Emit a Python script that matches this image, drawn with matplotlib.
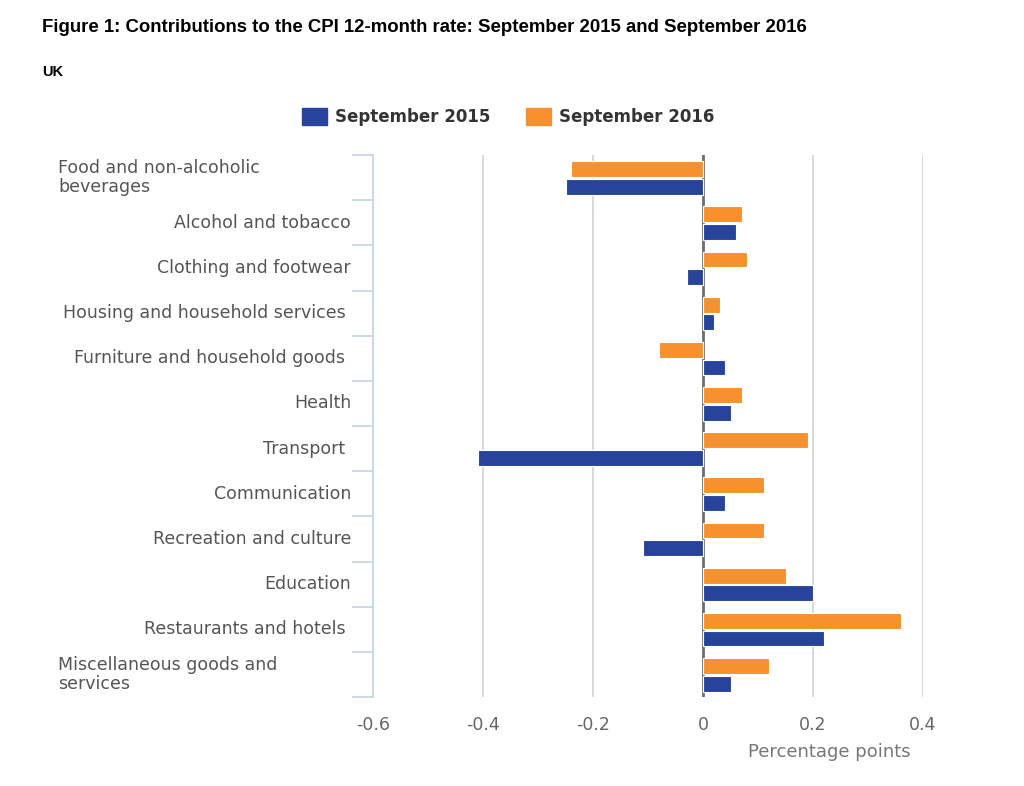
import matplotlib
matplotlib.use("Agg")
import matplotlib.pyplot as plt
import numpy as np
from matplotlib.patches import Patch
from matplotlib.transforms import blended_transform_factory

categories = [
    "Food and non-alcoholic\nbeverages",
    "Alcohol and tobacco",
    "Clothing and footwear",
    "Housing and household services ",
    "Furniture and household goods ",
    "Health",
    "Transport ",
    "Communication",
    "Recreation and culture",
    "Education",
    "Restaurants and hotels ",
    "Miscellaneous goods and\nservices",
]
sep2015 = [-0.25, 0.06, -0.03, 0.02, 0.04, 0.05, -0.41, 0.04, -0.11, 0.20, 0.22, 0.05]
sep2016 = [-0.24, 0.07, 0.08, 0.03, -0.08, 0.07, 0.19, 0.11, 0.11, 0.15, 0.36, 0.12]
series_names = ["September 2015", "September 2016"]
xticks = [-0.6, -0.4, -0.2, 0, 0.2, 0.4]
xtick_labels = ["-0.6", "-0.4", "-0.2", "0", "0.2", "0.4"]

BLUE = "#27449a"
ORANGE = "#f5922f"
GRAY = "#555555"

fig = plt.figure(figsize=(10.24, 7.86), dpi=100)
ax = fig.add_axes([373/1024, 1-697/786, (923-373)/1024, (697-155)/786])

n = len(categories)
y = np.arange(n)
h = 0.35
ax.barh(y - h/2 - 0.01, sep2016, height=h, color=ORANGE, edgecolor="white", linewidth=0.8, zorder=3)
ax.barh(y + h/2 + 0.03, sep2015, height=h, color=BLUE, edgecolor="white", linewidth=0.8, zorder=3)

ax.set_ylim(n - 0.5, -0.5)
ax.set_xlim(-0.6, 0.4)

# zero line and grid
ax.axvline(0, color="#6e6e6e", linewidth=2.0, zorder=2)
for xv in xticks:
    if xv not in (0, -0.6):
        ax.axvline(xv, color="#d6d6d6", linewidth=1.3, zorder=1)

for s in ["top", "right", "bottom"]:
    ax.spines[s].set_visible(False)
ax.spines["left"].set_color("#c9d5e6")
ax.spines["left"].set_linewidth(1.3)

ax.set_xticks(xticks)
ax.set_xticklabels(xtick_labels, color="#666666", fontsize=12.5, family="DejaVu Sans")
ax.tick_params(axis="x", length=0, pad=14)

# y ticks at category boundaries
ax.set_yticks(np.arange(-0.5, n, 1.0))
ax.set_yticklabels([])
ax.tick_params(axis="y", length=15, color="#c9d5e6", width=1.3)

trans = blended_transform_factory(fig.transFigure, ax.transData)
for i, lab in enumerate(categories):
    if "\n" in lab:
        ax.text(58/1024, i, lab, transform=trans, ha="left", va="center",
                fontsize=12.5, color=GRAY, linespacing=1.05, family="DejaVu Sans")
    else:
        ax.text(351/1024, i, lab, transform=trans, ha="right", va="center",
                fontsize=12.5, color=GRAY, family="DejaVu Sans")

fig.text(911/1024, 1-752/786, "Percentage points", ha="right", va="center",
         fontsize=13, color="#777777", family="DejaVu Sans")

fig.text(42/1024, 1-28/786,
         "Figure 1: Contributions to the CPI 12-month rate: September 2015 and September 2016",
         ha="left", va="center", fontsize=13.4, fontweight="bold",
         family="Liberation Sans", color="black")
fig.text(42/1024, 1-72/786, "UK", ha="left", va="center", fontsize=10.5,
         fontweight="bold", family="Liberation Sans", color="black")

handles = [Patch(facecolor=BLUE, edgecolor=BLUE), Patch(facecolor=ORANGE, edgecolor=ORANGE)]
leg = fig.legend(handles, series_names, loc="center", bbox_to_anchor=(508/1024, 1-117/786),
                 ncol=2, frameon=False, handlelength=1.5, handleheight=1.15,
                 columnspacing=2.1, handletextpad=0.5,
                 prop={"weight": "bold", "size": 12, "family": "DejaVu Sans"})
for t in leg.get_texts():
    t.set_color("#333333")

fig.savefig("out.png", dpi=100, facecolor="white")
